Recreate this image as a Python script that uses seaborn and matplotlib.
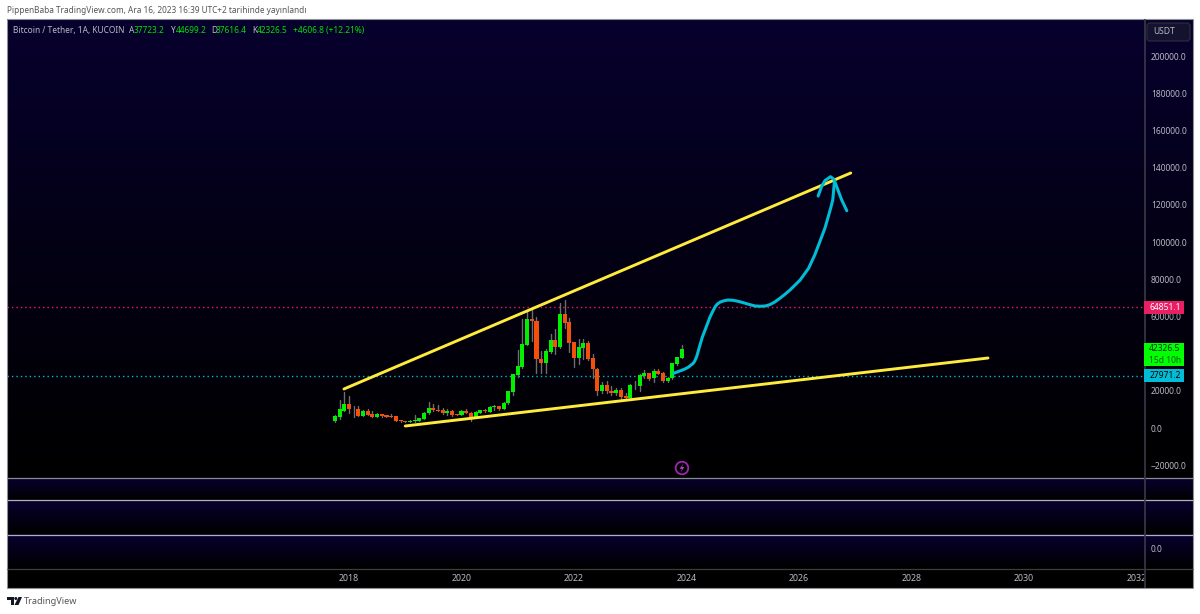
import numpy as np
import pandas as pd
import matplotlib
matplotlib.use("Agg")
import matplotlib.pyplot as plt
from matplotlib.colors import LinearSegmentedColormap
from matplotlib.patches import Rectangle, FancyBboxPatch, Circle, Polygon
import seaborn as sns

# ---- data -----------------------------------------------------------------
opens = [3770,6090,9320,12900,10100,10220,6450,9320,7530,5920,7530,6990,6630,6450,4300,3770,3230,3590,3770,4840,
         7890,10750,9860,9680,7890,9140,7530,6990,9140,8245,5920,8245,9860,8780,11470,11650,10220,13260,19530,28500,
         32620,44800,58780,57520,36920,34770,41040,47310,43370,61290,56810,46060,37810,42780,45700,37450,31540,19710,23120,19890,
         18640,20430,17200,16130,22940,22760,27960,29390,26700,30640,29390,25450,26700,34410,37723.2]
highs = [6800,15050,19530,17200,11830,11830,9500,10040,9300,8000,7700,7200,7530,6600,4400,3900,4100,6990,5600,8800,
         13980,12900,12370,10750,10040,9500,7700,9500,10220,8500,9320,9900,10400,11800,12370,12000,13800,19900,29200,41930,
         58420,63440,63440,59500,41400,42290,50540,53040,67020,68810,58960,46400,47850,47670,47000,39780,32000,24730,25270,22580,
         21330,21300,18640,23400,25270,28850,31180,29700,31540,31540,30000,27500,35000,38400,44699.2]
lows = [3230,5000,9000,8250,6090,6300,6300,6800,5700,5700,5740,5900,5800,3600,3050,3100,3150,3400,3600,4700,
        7500,9400,9000,7700,6990,6450,6800,6800,7900,3940,5700,8000,8800,8600,9680,9900,10000,13000,17740,27600,
        32000,44500,46950,29390,29390,29750,40140,39600,43000,53500,40680,32970,34410,37100,36400,26700,17740,18800,19000,17740,
        17740,15410,16000,16000,20970,19890,26700,25800,24910,28800,24910,24800,26500,34000,37616.4]
closes = [6450,10040,12900,10040,10250,6450,9320,6990,5740,7530,6450,6090,5920,3770,3770,3230,3940,4300,5380,8245,
          10750,9680,9140,7890,9140,7170,6990,9140,8060,5920,8780,9680,8960,11470,11830,10220,13620,19710,29030,33330,
          45160,58780,57520,36920,34770,41400,47310,43370,61290,56630,45880,37810,43370,45700,37100,31540,19710,23120,19710,18820,
          20430,16850,16130,23120,23300,28500,29390,26520,30640,29030,25450,27060,34770,38000,42326.5]
first_month = "2017-10-01"

upper_years = [2017.91, 2026.92]
upper_price = [20970, 137100]
lower_years = [2019.0, 2029.36]
lower_price = [1075, 37630]

sketch_years = [2023.77,2023.88,2023.96,2024.03,2024.12,2024.15,2024.18,2024.24,2024.28,2024.33,2024.42,2024.47,2024.51,
                2024.55,2024.60,2024.67,2024.74,2024.83,2024.92,2025.01,2025.13,2025.22,2025.31,2025.40,2025.48,2025.57,
                2025.66,2025.75,2025.84,2026.02,2026.17,2026.28,2026.37,2026.46,2026.52,2026.57,2026.60,2026.63]
sketch_price = [29400,30640,31560,32630,34780,36180,38330,44620,48760,52680,59830,62900,65210,
                66660,67740,68440,68810,68650,68110,67360,66290,65590,65430,65590,66290,67740,
                69730,71880,74190,79560,85850,93000,100150,107360,113600,118970,122570,132250]
hook_years = [2026.34,2026.40,2026.46,2026.56,2026.62,2026.67,2026.76,2026.85]
hook_price = [124720,129720,132950,135100,133700,129720,122570,116820]

level_high = 64851.1
level_low = 27971.2
price_ticks = [-20000, 0, 20000, 60000, 80000, 100000, 120000, 140000, 160000, 180000, 200000]
year_ticks = [2018, 2020, 2022, 2024, 2026, 2028, 2030, 2032]

title = "PippenBaba TradingView.com, Ara 16, 2023 16:39 UTC+2 tarihinde yayınlandı"
symbol = "Bitcoin / Tether, 1A, KUCOIN"
ohlc_parts = [("A", 129), ("37723.2", 134), ("Y", 171), ("44699.2", 176), ("D", 211), ("37616.4", 216),
              ("K", 252), ("42326.5", 257), ("+4606.8 (+12.21%)", 293)]

# ---- frame ----------------------------------------------------------------
W, H = 1200, 614
sns.set_theme(style="dark")
plt.rcParams["font.family"] = ["Noto Sans", "DejaVu Sans"]
plt.rcParams["axes.unicode_minus"] = True

GREEN, RED, WICK = "#00f000", "#f4500c", "#6e6e6e"
YELLOW, CYAN, PINK = "#ffeb3b", "#00bcd4", "#e91e63"
TXT = "#b8bac4"
FS = 6.1

fig = plt.figure(figsize=(W / 100, H / 100), dpi=100, facecolor="white")

def px_axes(x0, y0, x1, y1, z=1):
    a = fig.add_axes([x0 / W, 1 - y1 / H, (x1 - x0) / W, (y1 - y0) / H], zorder=z)
    a.patch.set_visible(False)
    for s in a.spines.values():
        s.set_visible(False)
    a.grid(False)
    return a

cmap_main = LinearSegmentedColormap.from_list("m", ["#07002e", "#030014", "#000000"])
cmap_pane = LinearSegmentedColormap.from_list("p", ["#08002f", "#000000"])
grad = np.linspace(0, 1, 256).reshape(-1, 1)

for (y0, y1, cm) in [(19, 478, cmap_main), (478, 500, cmap_pane), (500, 534, cmap_pane), (534, 568, cmap_pane)]:
    b = px_axes(7, y0, 1193, y1, z=0)
    b.imshow(grad, cmap=cm, aspect="auto", extent=(0, 1, 1, 0), vmin=0, vmax=1)
    b.set_xticks([]); b.set_yticks([])
b = px_axes(7, 568, 1193, 588, z=0)
b.add_patch(Rectangle((0, 0), 1, 1, transform=b.transAxes, color="black"))
b.set_xticks([]); b.set_yticks([])

# ---- main price pane ------------------------------------------------------
ax = px_axes(7, 19, 1144, 477, z=2)

months = pd.date_range(first_month, periods=len(opens), freq="MS")
df = pd.DataFrame({"open": opens, "high": highs, "low": lows, "close": closes})
df["year"] = months.year + (months.month - 1) / 12
df["up"] = df["close"] >= df["open"]

wicks = df.melt(id_vars="year", value_vars=["low", "high"], value_name="price")
sns.lineplot(data=wicks, x="year", y="price", units="year", estimator=None, color=WICK,
             lw=1.0, legend=False, ax=ax, zorder=3)
ax.bar(df["year"], (df["close"] - df["open"]).abs(), bottom=df[["open", "close"]].min(axis=1),
       width=0.072, color=np.where(df["up"], GREEN, RED), linewidth=0, zorder=4)

for v, c in [(level_high, PINK), (level_low, CYAN)]:
    ax.axhline(v, color=c, lw=1.0, dashes=(1, 2.2), zorder=2)

for xs, ys in [(upper_years, upper_price), (lower_years, lower_price)]:
    sns.lineplot(x=xs, y=ys, color=YELLOW, lw=2.1, ax=ax, zorder=5, legend=False, errorbar=None)
for xs, ys in [(sketch_years, sketch_price), (hook_years, hook_price)]:
    sns.lineplot(x=xs, y=ys, color=CYAN, lw=2.2, ax=ax, zorder=6, legend=False, errorbar=None,
                 solid_capstyle="round", solid_joinstyle="round")

xlim = (2018 + (7 - 349) / 56.25, 2018 + (1144 - 349) / 56.25)
ylim = ((428 - 477) / 0.00186, (428 - 19) / 0.00186)
ax.set_xlim(xlim); ax.set_ylim(ylim)
ax.set_xlabel(""); ax.set_ylabel("")
ax.set_xticks([])
ax.yaxis.tick_right()
ax.set_yticks(price_ticks)
ax.set_yticklabels([f"{v:.1f}".replace("-", "\u2212") for v in price_ticks])
ax.tick_params(axis="y", length=0, pad=5, labelsize=FS, labelcolor=TXT)

# ---- lower panes ----------------------------------------------------------
p3 = px_axes(7, 534, 1144, 568, z=2)
p3.set_ylim(-20, 14); p3.set_xticks([])
p3.yaxis.tick_right(); p3.set_yticks([0]); p3.set_yticklabels(["0.0"])
p3.tick_params(axis="y", length=0, pad=5, labelsize=FS, labelcolor=TXT)

tx = px_axes(7, 568, 1144, 588, z=2)
tx.set_xlim(xlim); tx.set_ylim(0, 1); tx.set_xticks([]); tx.set_yticks([])
for yr in year_ticks:
    tx.text(yr, 0.47, str(yr), color=TXT, fontsize=6.4, ha="center", va="center", clip_on=True)

# ---- overlay: frame lines, value tags, header, logo ------------------------
ov = fig.add_axes([0, 0, 1, 1], zorder=5)
ov.patch.set_visible(False)
ov.set_xlim(0, W); ov.set_ylim(H, 0); ov.axis("off")

for y, c, lw in [(477.5, "#8b8b97", 0.9), (500, "#b0b0bb", 0.9), (534.5, "#b0b0bb", 0.9), (568.5, "#3c3c44", 0.9)]:
    ov.plot([7, 1193], [y, y], color=c, lw=lw, solid_capstyle="butt")
ov.plot([1144.5, 1144.5], [19, 588], color="#3a3a48", lw=1.2, solid_capstyle="butt")
ov.add_patch(Rectangle((7, 19), 1186, 569, fill=False, ec="#8f8f98", lw=0.8))

def to_px(v):
    return 428 - v * 0.00186

for v, c, tc in [(level_high, PINK, "white"), (level_low, CYAN, "black")]:
    yy = to_px(v)
    ov.add_patch(Rectangle((1144, yy - 6.5), 40, 13, color=c, lw=0, zorder=5))
    ov.text(1165, yy - 0.3, f"{v:.1f}", color=tc, fontsize=FS, ha="center", va="center", zorder=6)
ov.add_patch(Rectangle((1144, 343), 40, 23, color="#00ff00", lw=0, zorder=5))
ov.text(1165, 348.8, f"{closes[-1]:.1f}", color="#06300a", fontsize=FS, ha="center", va="center", zorder=6)
ov.text(1165, 360.2, "15d 10h", color="#0a5a12", fontsize=FS, ha="center", va="center", zorder=6)

ov.add_patch(FancyBboxPatch((1147, 23), 43, 18, boxstyle="round,pad=0,rounding_size=3",
                            fc="#14122e", ec="#2a2c3c", lw=0.9, mutation_aspect=1))
ov.text(1153, 31.5, "USDT", color=TXT, fontsize=FS, va="center")

ov.text(7, 10.5, title, color="#555555", fontsize=5.95, va="center")
ov.text(13, 30.5, symbol, color=TXT, fontsize=6.0, va="center")
for s, x in ohlc_parts:
    ov.text(x, 30.5, s, color=(TXT if len(s) == 1 else "#00e000"), fontsize=6.0, va="center")

ov.add_patch(Circle((682, 468), 6.3, fill=False, ec="#9c27b0", lw=1.3))
ov.add_patch(Polygon([(683.5, 463.5), (679.5, 468.8), (682, 468.8), (680.5, 472.5), (684.5, 467), (682, 467)],
                     color="#b040c8", lw=0))

# logo
ov.add_patch(Polygon([(7, 597), (14, 597), (14, 605), (10.5, 605), (10.5, 600), (7, 600)], color="#131722", lw=0))
ov.add_patch(Circle((15.8, 598.5), 1.5, color="#131722", lw=0))
ov.add_patch(Polygon([(18.5, 597), (22, 597), (18.5, 605), (14.5, 605)], color="#131722", lw=0))
ov.text(24, 601.5, "TradingView", color="#555555", fontsize=6.6, va="center")

fig.savefig("out.png", dpi=100, facecolor="white")
